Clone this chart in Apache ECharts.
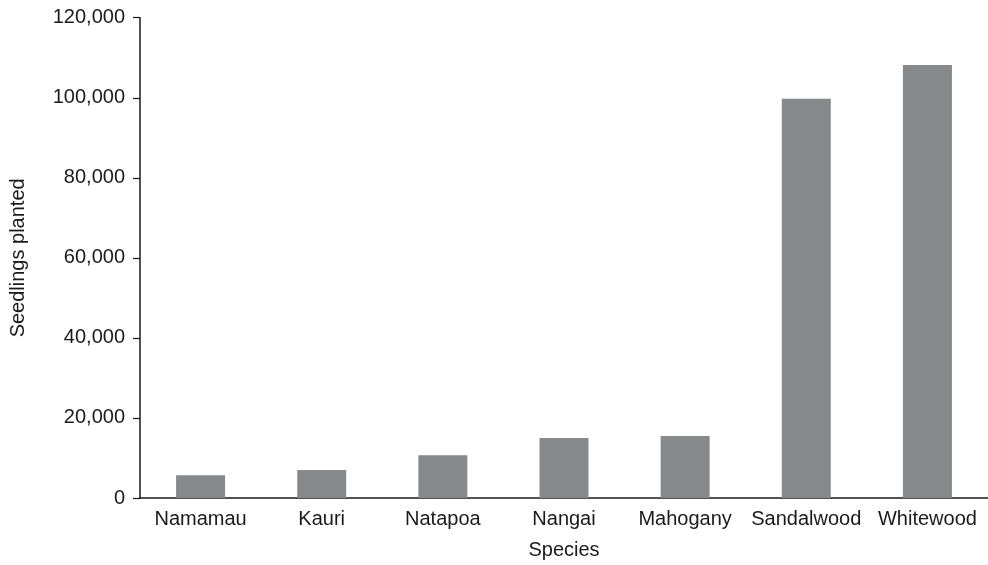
<!DOCTYPE html>
<html>
<head>
<meta charset="utf-8">
<script src="https://cdn.jsdelivr.net/npm/echarts@6/dist/echarts.min.js"></script>
<style>
html,body{margin:0;padding:0;background:#fff;}
#chart{width:988px;height:565px;}
</style>
</head>
<body>
<div id="chart"></div>
<script>
const categories = ["Namamau", "Kauri", "Natapoa", "Nangai", "Mahogany", "Sandalwood", "Whitewood"];
const seedlings = [5700, 7000, 10700, 15000, 15500, 99750, 108200];
const yTicks = { min: 0, max: 120000, interval: 20000 };

const chart = echarts.init(document.getElementById('chart'), null, { renderer: 'canvas' });
const font = "'Liberation Sans', Arial, Helvetica, sans-serif";
chart.setOption({
  animation: false,
  backgroundColor: '#ffffff',
  grid: { left: 140, right: -3, top: 17.7, bottom: 66, containLabel: false },
  xAxis: {
    type: 'category',
    data: categories,
    name: 'Species',
    nameLocation: 'middle',
    nameGap: 42,
    nameTextStyle: { fontFamily: font, fontSize: 20, color: '#1a1a1a' },
    axisLine: { lineStyle: { color: '#1a1a1a', width: 1.5 } },
    axisTick: { show: false },
    axisLabel: { fontFamily: font, fontSize: 20, color: '#1a1a1a', margin: 11, interval: 0 }
  },
  yAxis: {
    type: 'value',
    min: yTicks.min,
    max: yTicks.max,
    interval: yTicks.interval,
    name: 'Seedlings planted',
    nameLocation: 'middle',
    nameGap: 112,
    nameRotate: 90,
    nameTextStyle: { fontFamily: font, fontSize: 20, color: '#1a1a1a' },
    axisLine: { show: true, lineStyle: { color: '#1a1a1a', width: 1.5 } },
    axisTick: { show: true, length: 7, inside: false, lineStyle: { color: '#1a1a1a', width: 1.2 } },
    splitLine: { show: false },
    axisLabel: {
      fontFamily: font, fontSize: 20, color: '#1a1a1a', margin: 15,
      formatter: v => v.toLocaleString('en-US')
    }
  },
  series: [{
    type: 'bar',
    data: seedlings,
    barWidth: 49,
    itemStyle: { color: '#88898d' }
  }]
});
</script>
</body>
</html>
